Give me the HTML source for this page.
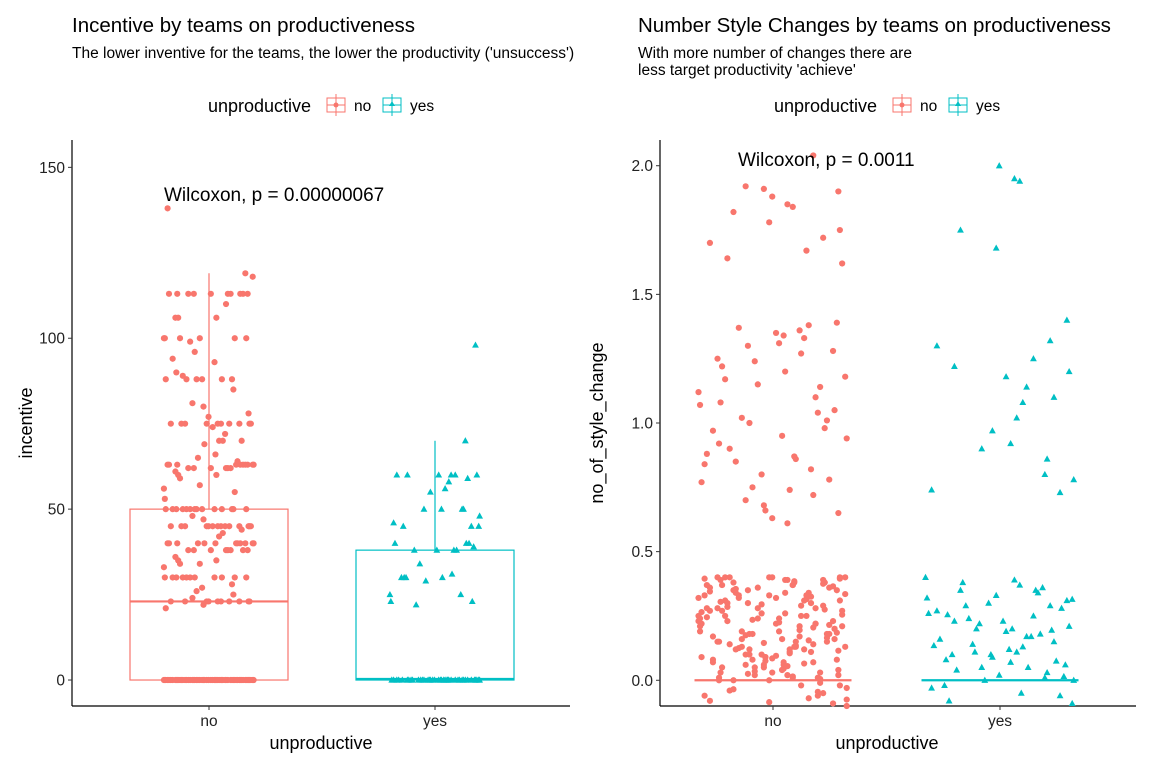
<!DOCTYPE html>
<html><head><meta charset="utf-8">
<style>
body{margin:0;background:#fff;font-family:"Liberation Sans",Arial,sans-serif;}
svg text{font-family:"Liberation Sans",Arial,sans-serif;}
</style></head>
<body>
<svg id="chart" width="1152" height="768" viewBox="0 0 1152 768" xmlns="http://www.w3.org/2000/svg">
<rect width="1152" height="768" fill="#fff"/>
<g>
<text x="72" y="32" font-size="20.5">Incentive by teams on productiveness</text>
<text x="72" y="58" font-size="15.5">The lower inventive for the teams, the lower the productivity ('unsuccess')</text>
<g>
<text x="208" y="112" font-size="18">unproductive</text>
<rect x="327" y="98" width="18" height="14" fill="none" stroke="#F8766D"/><line x1="336" y1="94" x2="336" y2="116" stroke="#F8766D"/><line x1="327" y1="105" x2="345" y2="105" stroke="#F8766D"/><circle cx="336" cy="105" r="2.5" fill="#F8766D"/>
<text x="354" y="111" font-size="15.5">no</text>
<rect x="383" y="98" width="18" height="14" fill="none" stroke="#00BFC4"/><line x1="392" y1="94" x2="392" y2="116" stroke="#00BFC4"/><line x1="383" y1="105" x2="401" y2="105" stroke="#00BFC4"/><polygon points="392,101 395,106 389,106" fill="#00BFC4"/>
<text x="410" y="111" font-size="15.5">yes</text>
</g>
<g id="L"></g>
<text x="164" y="201" font-size="19">Wilcoxon, p = 0.00000067</text>
<text x="32" y="423" font-size="18" transform="rotate(-90 32 423)" text-anchor="middle">incentive</text>
<text x="321" y="749" font-size="18" text-anchor="middle">unproductive</text>
</g>
<g>
<text x="638" y="32" font-size="20.5">Number Style Changes by teams on productiveness</text>
<text x="638" y="58" font-size="15.5">With more number of changes there are</text>
<text x="638" y="75" font-size="15.5">less target productivity 'achieve'</text>
<g>
<text x="774" y="112" font-size="18">unproductive</text>
<rect x="893" y="98" width="18" height="14" fill="none" stroke="#F8766D"/><line x1="902" y1="94" x2="902" y2="116" stroke="#F8766D"/><line x1="893" y1="105" x2="911" y2="105" stroke="#F8766D"/><circle cx="902" cy="105" r="2.5" fill="#F8766D"/>
<text x="920" y="111" font-size="15.5">no</text>
<rect x="949" y="98" width="18" height="14" fill="none" stroke="#00BFC4"/><line x1="958" y1="94" x2="958" y2="116" stroke="#00BFC4"/><line x1="949" y1="105" x2="967" y2="105" stroke="#00BFC4"/><polygon points="958,101 961,106 955,106" fill="#00BFC4"/>
<text x="976" y="111" font-size="15.5">yes</text>
</g>
<g id="R"></g>
<text x="738" y="166" font-size="19">Wilcoxon, p = 0.0011</text>
<text x="603" y="423" font-size="18" transform="rotate(-90 603 423)" text-anchor="middle">no_of_style_change</text>
<text x="887" y="749" font-size="18" text-anchor="middle">unproductive</text>
</g>
</svg>
<script>
const categories=["no","yes"];
const leftTicks=[0,50,100,150];
const rightTicks=[0.0,0.5,1.0,1.5,2.0];
const rightTickLabels=["0.0","0.5","1.0","1.5","2.0"];
// box statistics [no, yes]
const leftQ1=[0,0], leftMedian=[23,0.3], leftQ3=[50,38], leftLow=[0,0], leftHigh=[119,70];
const rightQ1=[0,0], rightMedian=[0,0], rightQ3=[0,0], rightLow=[0,0], rightHigh=[0,0];
const leftNo=[0,0,0,0,0,0,0,0,0,0,0,0,0,0,0,0,0,0,0,0,0,0,0,0,0,0,0,0,0,0,0,0,0,0,0,0,0,0,0,0,0,0,0,0,0,0,0,0,0,0,0,0,0,0,0,0,0,0,0,0,
23,23,23,23,23,23,23,23,23,23,22,24,25,26,21,27,28,
30,30,30,30,30,30,30,30,30,30,30,33,34,34,35,35,36,
38,38,38,38,38,38,38,38,40,40,40,40,40,40,40,40,40,40,40,40,42,43,44,
45,45,45,45,45,45,45,45,45,45,45,45,45,45,47,48,
50,50,50,50,50,50,50,50,50,50,50,50,50,50,53,55,56,57,59,60,60,61,
62,62,62,62,62,62,63,63,63,63,63,63,63,63,63,63,64,65,66,
69,70,70,70,72,74,75,75,75,75,75,75,75,75,75,75,77,78,80,81,85,
88,88,88,88,88,88,89,90,93,94,96,99,100,100,100,100,100,100,106,106,106,110,113,113,113,113,113,113,113,113,113,113,118,119,138];
const leftYes=[0,0,0,0,0,0,0,0,0,0,0,0,0,0,0,0,0,0,0,0,0,0,0,0,0,0,0,0,0,0,0,0,0,0,0,0,0,0,0,0,
22,23,23,25,25,29,30,30,30,30,31,34,38,38,38,38,39,40,40,40,45,45,45,46,48,50,50,50,50,55,56,58,59,60,60,60,60,60,60,70,98];
const rightNo=[-0.08,-0.05,-0.02,0,0,0.01,0.02,0.03,0.04,0.05,0.06,0.07,0.08,0.09,0.1,0.11,0.12,0.13,0.14,0.15,0.16,0.17,0.18,0.19,0.2,0.21,0.22,0.23,0.24,0.25,0.26,0.27,0.28,0.29,0.3,0.31,0.32,0.33,0.34,0.35,0.36,0.37,0.38,0.39,0.4,
-0.09,-0.06,-0.03,0.01,0.03,0.05,0.07,0.09,0.11,0.13,0.15,0.17,0.19,0.21,0.23,0.25,0.27,0.29,0.31,0.33,0.35,0.37,0.39,0.4,
0.02,0.06,0.1,0.14,0.18,0.22,0.26,0.3,0.34,0.38,-0.04,0.0,0.04,0.08,0.12,0.16,0.2,0.24,0.28,0.32,0.36,0.4,0.39,
0.05,0.15,0.25,0.35,0.12,0.22,0.32,-0.07,0.08,0.18,0.28,0.38,0.03,0.13,0.23,0.33,
-0.1,-0.06,-0.01,0.02,0.045,0.075,0.105,0.135,0.165,0.195,0.225,0.255,0.285,0.315,0.345,0.375,0.395,
-0.085,-0.035,0.015,0.055,0.085,0.115,0.145,0.175,0.205,0.235,0.265,0.295,0.325,0.355,0.385,0.4,
0.01,0.04,0.07,0.1,0.13,0.16,0.19,0.22,0.25,0.28,0.31,0.34,0.37,0.4,-0.02,0.025,0.065,0.095,0.125,0.155,0.185,0.215,0.245,0.275,0.305,0.335,0.365,0.395,
-0.075,-0.045,0.005,0.035,0.06,0.09,0.12,0.15,0.18,0.21,0.24,0.27,0.3,0.33,0.36,0.39,0.4,0.4,0.38,0.37,
0.61,0.63,0.65,0.68,0.7,0.72,0.75,0.77,0.8,0.82,0.85,0.87,0.9,0.92,0.95,0.97,1.0,1.02,1.05,1.07,1.1,1.12,1.15,1.17,1.2,1.22,1.25,1.27,1.3,1.33,1.35,1.37,1.38,1.39,
0.78,0.88,0.98,1.08,1.18,1.28,0.84,0.94,1.04,1.14,1.24,1.34,0.66,0.74,0.86,1.01,1.36,1.31,
1.62,1.64,1.67,1.7,1.72,1.75,1.78,1.82,1.84,1.85,1.88,1.9,1.91,1.92,2.04];
const rightYes=[-0.09,-0.06,-0.03,0,0.01,0.03,0.05,0.07,0.09,0.11,0.13,0.15,0.17,0.19,0.21,0.23,0.25,0.27,0.29,0.31,0.33,0.35,0.37,0.39,
0.02,0.06,0.1,0.14,0.18,0.22,0.26,0.3,0.34,0.38,-0.05,0.04,0.08,0.12,0.16,0.2,0.24,0.28,0.32,0.36,0.4,0.0,0.1,0.2,
-0.08,-0.02,0.05,0.11,0.17,0.23,0.29,0.35,0.015,0.075,0.135,0.195,0.255,0.315,
0.73,0.74,0.78,0.8,0.86,0.9,0.92,0.97,1.02,1.08,1.1,1.14,1.18,1.2,1.22,1.25,1.3,1.32,1.4,1.68,1.75,1.94,1.95,2.0];
const jitter=[-0.83,0.41,-0.12,0.95,-0.57,0.22,-0.98,0.66,0.04,-0.36,0.79,-0.71,0.3,-0.2,0.88,-0.45,0.53,-0.9,0.12,0.71,-0.63,-0.05,0.47,-0.27,0.97,-0.79,0.35,0.16,-0.52,0.84,-0.94,0.59,-0.31,0.08,-0.67,0.26,0.74,
-0.15,0.62,-0.41,0.91,-0.73,0.19,-0.87,0.5,-0.24,0.81,-0.6,0.37,-0.01,0.68,-0.49,0.14,-0.96,0.44,-0.33,0.86,-0.69,0.28,-0.1,0.56];
const NS="http://www.w3.org/2000/svg";
function mk(tag,at,p){const e=document.createElementNS(NS,tag);for(const k in at)e.setAttribute(k,at[k]);p.appendChild(e);return e;}
function panel(g,cfg){
  const {x0,x1,yTop,yBot,dmin,dmax,ticks,labels,series,centers,bw,jw,q1,md,q3,lo,hi}=cfg;
  const ys=v=>yBot-(v-dmin)/(dmax-dmin)*(yBot-yTop);
  const cols=["#F8766D","#00BFC4"];
  const ax=mk('g',{},g);
  
  
  mk('line',{x1:x0,y1:yTop,x2:x0,y2:yBot,stroke:'#000','stroke-width':1.2},ax);
  mk('line',{x1:x0,y1:yBot,x2:x1,y2:yBot,stroke:'#000','stroke-width':1.2},ax);
  ticks.forEach((t,i)=>{const y=ys(t);mk('line',{x1:x0-4,y1:y,x2:x0,y2:y,stroke:'#333'},ax);
    const tx=mk('text',{x:x0-7,y:y+5.5,'font-size':15.5,'text-anchor':'end',fill:'#222'},ax);tx.textContent=labels[i];
    
    });
  categories.forEach((c,i)=>{const x=centers[i];mk('line',{x1:x,y1:yBot,x2:x,y2:yBot+4,stroke:'#333'},ax);
    const tx=mk('text',{x:x,y:yBot+20,'font-size':15.5,'text-anchor':'middle',fill:'#222'},ax);tx.textContent=c;
    
    });
  series.forEach((vals,i)=>{
    const x=centers[i],col=cols[i];
    const bg=mk('g',{},g);
    
    
    if(hi[i]>q3[i]) mk('line',{x1:x,y1:ys(q3[i]),x2:x,y2:ys(hi[i]),stroke:col,'stroke-width':1.2},bg);
    if(lo[i]<q1[i]) mk('line',{x1:x,y1:ys(q1[i]),x2:x,y2:ys(lo[i]),stroke:col,'stroke-width':1.2},bg);
    if(q3[i]>q1[i]) mk('rect',{x:x-bw/2,y:ys(q3[i]),width:bw,height:ys(q1[i])-ys(q3[i]),fill:'none',stroke:col,'stroke-width':1.2},bg);
    mk('line',{x1:x-bw/2,y1:ys(md[i]),x2:x+bw/2,y2:ys(md[i]),stroke:col,'stroke-width':2.2},bg);
    const pg=mk('g',{fill:col},g);
    
    
    vals.forEach((v,k)=>{const px=x+jitter[(k*7+i*3)%jitter.length]*jw,py=ys(v);
      let e;
      if(i===0)e=mk('circle',{cx:px,cy:py,r:3.1},pg);
      else e=mk('polygon',{points:`${px},${py-3.6} ${px+3.4},${py+2.6} ${px-3.4},${py+2.6}`},pg);
      
      
    });
  });
}
panel(document.getElementById('L'),{x0:72,x1:570,yTop:140,yBot:706,dmin:-7.6,dmax:158,ticks:leftTicks,labels:leftTicks.map(String),series:[leftNo,leftYes],centers:[209,435],bw:158,jw:46,q1:leftQ1,md:leftMedian,q3:leftQ3,lo:leftLow,hi:leftHigh});
panel(document.getElementById('R'),{x0:660,x1:1136,yTop:140,yBot:706,dmin:-0.1,dmax:2.1,ticks:rightTicks,labels:rightTickLabels,series:[rightNo,rightYes],centers:[773,1000],bw:157,jw:76,q1:rightQ1,md:rightMedian,q3:rightQ3,lo:rightLow,hi:rightHigh});
</script>
</body></html>
